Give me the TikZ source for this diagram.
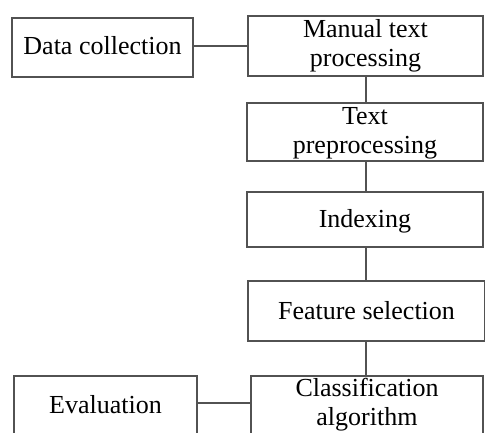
\documentclass[tikz,border=0pt]{standalone}
\usepackage{fontspec}
\setmainfont{Liberation Serif}
\begin{document}
\begin{tikzpicture}[x=1pt,y=-1pt,
  box/.style={draw=black!68, line width=1.8pt, fill=white, inner sep=0pt},
  lbl/.style={inner sep=0pt, align=center, font=\fontsize{26}{29}\selectfont, text=black},
  link/.style={draw=black!68, line width=1.8pt}]
\useasboundingbox (0,0) rectangle (485,432);
\clip (0,0) rectangle (485,432);
% boxes
\node[box, minimum width=181pt, minimum height=59pt] (dc) at (102.5,47.5) {};
\node[box, minimum width=235pt, minimum height=60pt] (man) at (365.5,46) {};
\node[box, minimum width=236pt, minimum height=58pt] (pre) at (365,132) {};
\node[box, minimum width=236pt, minimum height=55pt] (idx) at (365,219.5) {};
\node[box, minimum width=237pt, minimum height=60pt] (fs) at (366.5,311) {};
\node[box, minimum width=232pt, minimum height=58pt] (cls) at (367,405) {};
\node[box, minimum width=183pt, minimum height=58pt] (ev) at (105.5,405) {};
% texts
\node[lbl] (dct) at ([yshift=1.5pt]dc.center) {Data collection};
\node[lbl] (mant) at ([yshift=0pt]man.center) {Manual text\\processing};
\node[lbl] (pret) at ([yshift=-1pt]pre.center) {Text\\preprocessing};
\node[lbl] (idxt) at ([yshift=-2pt]idx.center) {Indexing};
\node[lbl] (fst) at (fs.center) {Feature selection};
\node[lbl] (clst) at ([yshift=0pt]cls.center) {Classification\\algorithm};
\node[lbl] (evt) at ([yshift=0.5pt]ev.center) {Evaluation};
% connectors
\coordinate (vx) at (366,0);
\coordinate (h1) at (0,46);
\coordinate (h2) at (0,403);
\draw[link] (dc.east |- h1) -- (man.west |- h1);
\draw[link] (vx |- man.south) -- (vx |- pre.north);
\draw[link] (vx |- pre.south) -- (vx |- idx.north);
\draw[link] (vx |- idx.south) -- (vx |- fs.north);
\draw[link] (vx |- fs.south) -- (vx |- cls.north);
\draw[link] (ev.east |- h2) -- (cls.west |- h2);
\end{tikzpicture}
\end{document}
